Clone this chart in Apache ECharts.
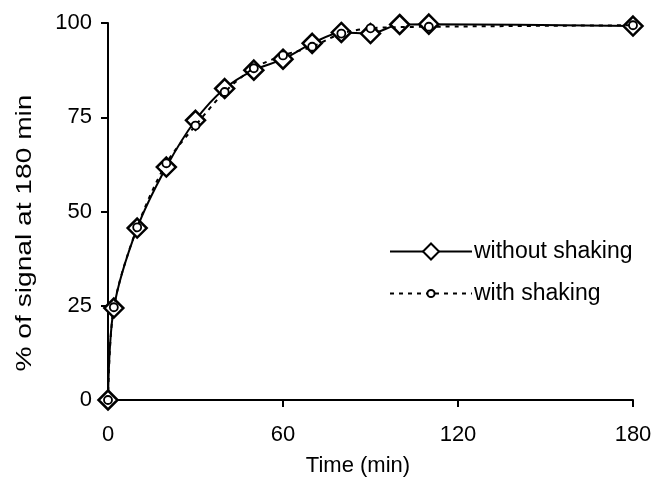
<!DOCTYPE html>
<html>
<head>
<meta charset="utf-8">
<script src="https://cdn.jsdelivr.net/npm/echarts@6/dist/echarts.min.js"></script>
<style>html,body{margin:0;padding:0;background:#fff;}#c{width:657px;height:493px;}</style>
</head>
<body>
<div id="c"></div>
<script>
var xTicks = [0, 60, 120, 180];
var yTicks = [0, 25, 50, 75, 100];
var timeWithout = [0, 2, 10, 20, 30, 40, 50, 60, 70, 80, 90, 100, 110, 180];
var valWithout  = [0, 24.4, 45.6, 61.8, 74.2, 82.6, 87.5, 90.4, 94.6, 97.5, 97.2, 99.6, 99.7, 99.2];
var timeWith = [0, 2, 10, 20, 30, 40, 50, 60, 70, 80, 90, 110, 180];
var valWith  = [0, 24.6, 45.8, 62.8, 72.8, 81.7, 88.0, 91.4, 93.7, 97.2, 98.6, 99.0, 99.4];
var seriesNames = ['without shaking', 'with shaking'];
var xTitle = 'Time (min)';
var yTitle = '% of signal at 180 min';

function pairs(t, v) { return t.map(function (x, i) { return [x, v[i]]; }); }
var FONT = '"Liberation Sans", Arial, sans-serif';
var legendText = {color: '#000', fontSize: 23, fontFamily: FONT, padding: [0, 0, 0, -3]};

var chart = echarts.init(document.getElementById('c'), null, {renderer: 'canvas'});
chart.setOption({
  animation: false,
  backgroundColor: '#fff',
  grid: {left: 108, right: 24, top: 23, bottom: 93, containLabel: false},
  xAxis: {
    type: 'value', min: 0, max: 180, interval: 60,
    axisLine: {show: true, onZero: false, lineStyle: {color: '#000', width: 2}},
    axisTick: {show: true, inside: false, length: 7, lineStyle: {color: '#000', width: 2}},
    axisLabel: {color: '#000', fontSize: 22, fontFamily: FONT, margin: 24,
      formatter: function (v) { return xTicks.indexOf(v) >= 0 ? String(v) : ''; }},
    splitLine: {show: false}
  },
  yAxis: {
    type: 'value', min: 0, max: 100, interval: 25,
    axisLine: {show: true, lineStyle: {color: '#000', width: 2}},
    axisTick: {show: true, inside: false, length: 7, lineStyle: {color: '#000', width: 2}},
    axisLabel: {color: '#000', fontSize: 22, fontFamily: FONT, margin: 16,
      formatter: function (v) { return yTicks.indexOf(v) >= 0 ? String(v) : ''; }},
    splitLine: {show: false}
  },
  legend: [
    {left: 384, top: 235, itemWidth: 82, itemHeight: 20, textStyle: legendText, data: [seriesNames[0]]},
    {left: 384, top: 277, itemWidth: 82, itemHeight: 9, textStyle: legendText, data: [seriesNames[1]]}
  ],
  graphic: [
    {type: 'text', x: 358, y: 466, style: {text: xTitle, font: '22px ' + FONT, fill: '#000', align: 'center', verticalAlign: 'middle'}},
    {type: 'text', x: 25, y: 233, rotation: Math.PI / 2, scaleX: 1.28,
      style: {text: yTitle, font: '22px ' + FONT, fill: '#000', align: 'center', verticalAlign: 'middle'}}
  ],
  series: [
    {
      name: seriesNames[0], type: 'line', smooth: 0.3,
      data: pairs(timeWithout, valWithout),
      symbol: 'diamond', symbolSize: 19,
      lineStyle: {color: '#000', width: 2},
      itemStyle: {color: '#fff', borderColor: '#000', borderWidth: 2.5},
      z: 2
    },
    {
      name: seriesNames[1], type: 'line', smooth: 0.3,
      data: pairs(timeWith, valWith),
      symbol: 'circle', symbolSize: 8,
      lineStyle: {color: '#000', width: 2, type: [4, 5]},
      itemStyle: {color: '#fff', borderColor: '#000', borderWidth: 1.8},
      z: 3
    }
  ]
});
</script>
</body>
</html>
